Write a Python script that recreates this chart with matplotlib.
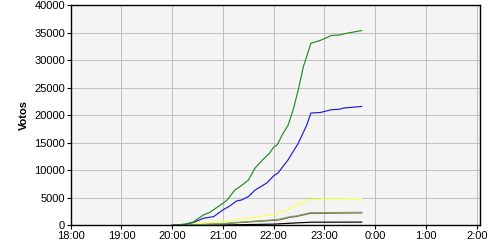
import matplotlib
matplotlib.use('Agg')
import matplotlib.pyplot as plt

# vote counts (thousands), times as HH:MM
green_t = ['20:00', '20:15', '20:25', '20:37', '20:44', '21:00', '21:05', '21:14', '21:20',
           '21:30', '21:38', '21:47', '21:55', '22:00', '22:04', '22:11', '22:17', '22:23',
           '22:29', '22:35', '22:44', '22:55', '23:08', '23:18', '23:26', '23:44']
green_v = [0, 0.2, 0.6, 1.9, 2.3, 4.0, 4.6, 6.4, 7.0, 8.2, 10.4, 11.9, 13.1, 14.2, 14.6,
           16.7, 18.2, 21.0, 24.6, 28.8, 33.1, 33.6, 34.5, 34.6, 34.9, 35.4]

blue_t = ['20:00', '20:15', '20:25', '20:37', '20:49', '21:00', '21:07', '21:16', '21:22',
          '21:30', '21:38', '21:52', '22:00', '22:05', '22:17', '22:29', '22:39', '22:44',
          '22:55', '23:08', '23:18', '23:22', '23:44']
blue_v = [0, 0.15, 0.5, 1.27, 1.57, 2.8, 3.4, 4.4, 4.6, 5.2, 6.4, 7.7, 9.0, 9.5, 11.9,
          14.9, 18.2, 20.4, 20.5, 21.0, 21.1, 21.3, 21.6]

yellow_t = ['20:00', '20:25', '21:00', '21:20', '21:36', '22:00', '22:07', '22:15', '22:27',
            '22:31', '22:44', '23:00', '23:44']
yellow_v = [0, 0.36, 0.65, 1.1, 1.4, 2.0, 2.3, 2.7, 3.7, 4.0, 4.7, 4.8, 4.85]

olive_t = ['20:00', '20:30', '21:00', '21:20', '22:00', '22:07', '22:19', '22:27', '22:44',
           '23:00', '23:44']
olive_v = [0, 0.12, 0.3, 0.55, 0.98, 1.1, 1.55, 1.7, 2.3, 2.3, 2.35]

brown_t = ['20:00', '20:30', '21:00', '21:20', '22:00', '22:07', '22:19', '22:27', '22:44',
           '23:00', '23:44']
brown_v = [0, 0.1, 0.24, 0.5, 0.9, 1.0, 1.45, 1.6, 2.2, 2.2, 2.25]

black_t = ['20:00', '21:00', '22:00', '22:30', '22:44', '23:44']
black_v = [0, 0.05, 0.2, 0.45, 0.55, 0.57]

xtick_labels = ['18:00', '19:00', '20:00', '21:00', '22:00', '23:00', '0:00', '1:00', '2:00']


def to_hours(times):
    out = []
    for t in times:
        h, m = t.split(':')
        h = int(h)
        if h < 12:
            h += 24
        out.append(h + int(m) / 60)
    return out


plt.rcParams['font.family'] = ['Liberation Sans', 'DejaVu Sans']
fig = plt.figure(figsize=(5, 2.5), dpi=100)
ax = fig.add_axes([0.1414, 0.099, 0.8192, 0.88])
ax.set_facecolor('#f4f4f4')

series = [(black_t, black_v, '#000000'),
          (brown_t, brown_v, '#8b3a3a'),
          (olive_t, olive_v, '#6fa860'),
          (yellow_t, yellow_v, '#ffff50'),
          (blue_t, blue_v, '#1c1cd8'),
          (green_t, green_v, '#228b22')]
for t, v, c in series:
    ax.plot(to_hours(t), [x * 1000 for x in v], color=c, lw=0.85)

ax.set_xlim(18, 26.07)
ax.set_ylim(0, 40000)
ax.set_xticks(range(18, 27))
ax.set_xticklabels(xtick_labels)
ax.set_yticks(range(0, 40001, 5000))
ax.grid(True, color='#c0c0c0', lw=0.7)
ax.set_axisbelow(True)
ax.tick_params(labelsize=8, length=3, width=0.8, pad=1)
for s in ax.spines.values():
    s.set_linewidth(1)
ax.set_ylabel('Votos', fontsize=8, fontweight='bold', labelpad=4)

fig.savefig('out.png', dpi=100)
